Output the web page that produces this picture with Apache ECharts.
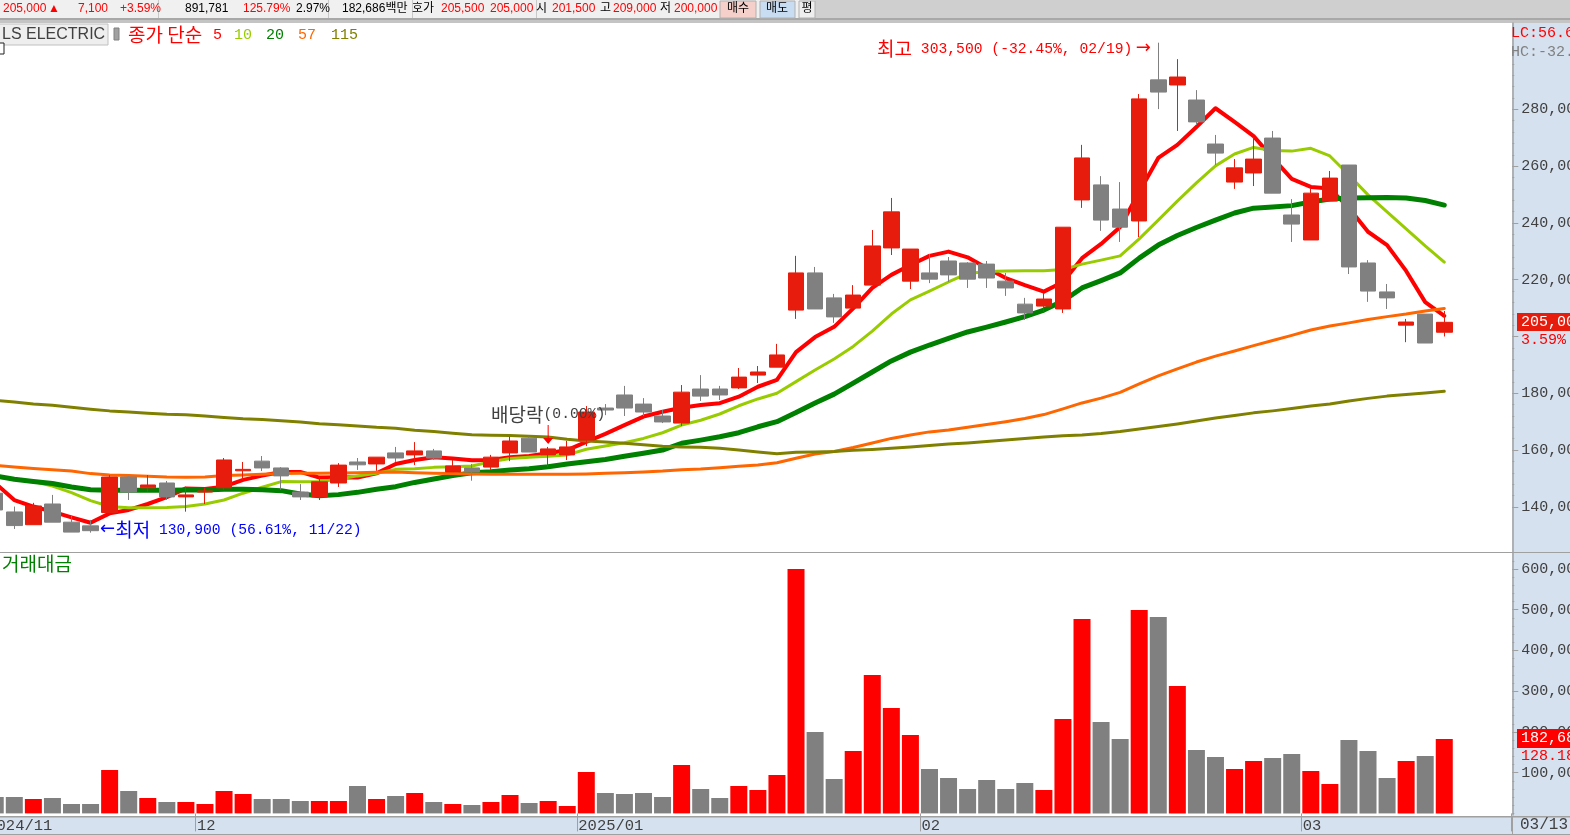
<!DOCTYPE html>
<html><head><meta charset="utf-8">
<style>html,body{margin:0;padding:0;background:#fff;overflow:hidden}#c{width:1570px;height:835px}</style>
<script src="https://cdn.jsdelivr.net/npm/echarts@6/dist/echarts.min.js"></script>
</head><body><div id="c"></div>
<script>
// Trading dates
const dates = ['2024-11-15','2024-11-18','2024-11-19','2024-11-20','2024-11-21','2024-11-22','2024-11-25','2024-11-26','2024-11-27','2024-11-28','2024-11-29',
'2024-12-02','2024-12-03','2024-12-04','2024-12-05','2024-12-06','2024-12-09','2024-12-10','2024-12-11','2024-12-12','2024-12-13','2024-12-16','2024-12-17','2024-12-18','2024-12-19','2024-12-20','2024-12-23','2024-12-24','2024-12-26','2024-12-27','2024-12-30',
'2025-01-02','2025-01-03','2025-01-06','2025-01-07','2025-01-08','2025-01-09','2025-01-10','2025-01-13','2025-01-14','2025-01-15','2025-01-16','2025-01-17','2025-01-20','2025-01-21','2025-01-22','2025-01-23','2025-01-24','2025-01-31',
'2025-02-03','2025-02-04','2025-02-05','2025-02-06','2025-02-07','2025-02-10','2025-02-11','2025-02-12','2025-02-13','2025-02-14','2025-02-17','2025-02-18','2025-02-19','2025-02-20','2025-02-21','2025-02-24','2025-02-25','2025-02-26','2025-02-27','2025-02-28',
'2025-03-04','2025-03-05','2025-03-06','2025-03-07','2025-03-10','2025-03-11','2025-03-12','2025-03-13'];
const blankSlots = ['2025-03-14','2025-03-17','2025-03-18'];
const monthLabels = {'2024-11-15':'2024/11','2024-12-02':'12','2025-01-02':'2025/01','2025-02-03':'02','2025-03-04':'03'};

// Prices in thousand won
const opens = [144.8,138.2,133.7,141.0,134.6,133.3,138.0,150.5,146.7,148.4,143.5,145.2,146.7,152.7,156.1,153.7,145.2,143.5,148.4,155.8,155.1,159.0,158.3,159.7,152.3,153.7,154.0,159.0,164.2,158.3,158.3,163.5,174.8,179.4,176.2,172.0,169.5,181.5,181.5,181.9,186.4,189.2,209.3,222.4,213.6,210.0,218.1,231.2,219.5,222.4,226.6,225.9,225.5,219.5,211.4,210.7,209.7,248.1,253.4,244.9,240.7,290.4,288.6,283.3,267.8,254.4,257.6,269.9,242.8,234.0,247.7,260.4,225.9,215.7,204.0,207.9,201.5];
const closes = [138.9,133.4,140.3,134.6,131.1,131.6,150.5,145.2,147.7,143.5,144.2,145.6,156.5,153.2,153.7,150.9,143.5,148.8,154.7,154.8,157.5,157.2,159.7,157.2,154.4,152.3,157.5,163.2,159.3,160.4,161.1,173.4,174.1,174.8,173.4,169.9,180.4,179.0,179.4,185.7,187.5,193.5,222.4,209.7,206.9,214.6,231.9,243.9,230.8,220.2,221.7,220.2,220.6,217.1,208.3,213.2,238.5,262.9,241.0,238.5,283.7,286.1,291.4,275.6,264.6,259.4,262.5,250.5,239.6,250.5,255.8,224.5,216.0,213.6,205.1,197.7,205.0];
const lows = [138.9,132.2,133.7,134.6,131.1,130.9,138.0,142.4,145.3,142.4,138.3,141.0,146.0,149.5,152.6,146.0,142.4,142.4,147.0,153.0,152.7,155.8,154.7,156.5,152.3,149.2,153.0,156.1,159.3,154.0,156.5,161.4,172.3,172.0,172.0,169.5,168.5,177.3,177.6,181.5,183.6,189.2,206.2,209.7,204.8,210.0,218.1,228.7,216.7,218.8,219.2,217.1,217.1,214.3,205.8,208.3,208.3,245.3,237.2,233.3,235.0,280.1,272.4,274.5,260.4,252.0,253.0,250.5,233.3,234.0,247.7,222.0,212.2,209.7,198.0,197.7,200.0];
const highs = [144.8,140.1,141.4,144.2,136.8,135.4,151.2,150.8,151.2,149.1,147.1,146.7,157.2,155.8,157.9,154.0,148.0,150.5,155.4,157.2,157.5,161.1,162.8,160.4,156.5,155.1,158.3,164.7,164.7,161.1,163.2,175.5,176.2,182.6,178.3,174.1,182.9,186.4,182.6,188.9,189.6,197.4,228.4,224.5,215.0,218.1,237.5,248.8,230.8,229.1,228.0,226.2,226.6,222.4,213.6,215.3,238.5,267.5,256.5,254.4,285.4,303.5,297.7,286.8,271.0,262.5,270.3,272.4,248.4,252.0,258.3,260.4,226.9,218.5,206.2,207.9,209.0];

const ma5 = [148.3,142.4,140.1,138.3,136.3,134.4,137.7,138.9,141.0,143.4,146.5,146.3,147.1,149.5,151.0,152.3,152.3,150.3,150.4,150.3,151.8,155.1,
156.5,157.5,157.0,156.4,156.5,157.5,157.9,158.9,160.0,162.9,165.7,168.8,171.8,173.5,174.9,175.9,176.5,178.8,182.3,184.7,
194.5,199.8,203.4,209.9,217.1,221.7,225.2,228.4,229.9,227.9,224.1,220.6,218.1,215.8,219.2,227.6,232.6,238.6,250.9,262.9,267.5,273.8,280.4,275.6,270.6,262.9,255.5,252.7,252.1,245.3,236.9,232.2,223.1,212.1,207.3];
const ma10 = [150.6,149.7,148.9,147.3,145.0,142.2,140.1,139.7,139.7,139.8,140.1,141.0,142.4,144.8,146.9,148.9,148.8,148.9,149.7,150.9,151.8,153.2,
153.4,153.9,154.1,154.4,155.9,157.0,157.5,157.8,158.3,160.3,161.4,162.6,164.1,166.1,168.8,170.5,172.7,175.6,178.0,180.0,184.1,
188.2,192.1,196.5,201.9,207.9,212.9,216.0,219.2,222.2,222.9,223.1,223.2,223.2,223.6,225.5,226.9,228.4,234.4,241.0,247.7,254.1,260.1,264.3,266.6,265.5,265.3,266.3,263.6,256.9,249.9,243.9,237.9,231.9,226.2];
const ma20 = [150.9,149.7,148.9,148.2,147.0,146.0,145.8,145.8,145.8,145.8,145.9,145.9,146.2,146.2,146.0,145.7,144.5,143.9,144.3,145.1,146.2,147.1,
148.6,149.8,151.0,152.0,152.4,153.0,153.4,154.1,155.1,155.9,156.7,157.8,158.9,160.0,162.4,163.5,164.7,166.1,168.2,170.0,173.2,
176.6,179.7,183.6,187.5,191.4,194.5,197.0,199.3,201.6,203.3,205.1,207.0,209.3,212.5,217.1,219.7,222.4,227.6,232.2,235.6,238.4,241.0,243.5,245.2,245.6,246.1,247.4,248.4,248.8,248.9,249.0,248.8,247.9,246.3];
const ma57 = [154.6,154.0,153.5,153.1,152.6,151.7,151.2,151.0,150.8,150.5,150.4,150.5,151.0,151.2,151.5,151.7,151.8,151.8,151.9,152.0,152.2,152.3,
152.0,151.8,151.7,151.6,151.5,151.5,151.5,151.5,151.5,151.6,151.8,152.0,152.3,152.6,153.1,153.3,153.8,154.3,154.7,155.5,157.1,
158.6,159.5,160.9,162.5,164.1,165.3,166.4,167.1,168.0,169.0,170.0,171.1,172.5,174.5,176.6,178.3,180.3,183.3,186.1,188.6,191.0,193.1,194.9,196.8,198.6,200.4,202.3,203.7,204.8,206.0,207.0,207.9,209.0,209.9];
const ma115 = [177.5,176.9,176.2,175.8,175.1,174.4,173.8,173.4,173.0,172.6,172.4,172.0,171.5,171.0,170.8,170.3,169.9,169.3,168.9,168.5,168.0,167.7,
167.0,166.5,165.9,165.4,165.2,165.1,164.9,164.6,163.8,163.2,162.8,162.4,161.9,161.3,161.1,161.0,160.6,160.0,159.3,158.7,159.2,
159.3,159.5,159.9,160.2,160.6,161.1,161.6,162.1,162.5,163.0,163.5,164.1,164.6,165.0,165.3,165.8,166.5,167.4,168.3,169.2,170.2,171.3,172.2,173.1,173.8,174.6,175.5,176.2,177.3,178.2,179.0,179.6,180.1,180.7];

// Trading value, thousand of the axis unit
const turnover = [40.3,40.3,35.3,37.8,23.1,23.1,106.5,55.0,37.8,28.0,28.0,23.1,55.0,47.6,35.3,35.3,30.4,30.4,30.4,67.3,35.3,42.7,50.1,28.0,23.1,20.6,28.0,45.2,25.5,30.4,18.2,101.6,50.1,47.6,50.1,40.3,118.8,59.9,37.8,67.3,57.4,94.3,599.9,199.8,84.4,153.2,339.7,258.7,192.4,109.0,86.9,59.9,82.0,59.9,74.6,57.4,231.7,477.2,224.4,182.6,499.3,482.1,312.7,155.6,138.4,109.0,128.6,136.0,145.8,104.1,72.2,180.2,153.2,86.9,128.6,140.9,182.686];

const priceTicks = [140,160,180,200,220,240,260,280];
const priceLabelTicks = [140,160,180,220,240,260,280];
const priceMinorTicks = [140,144,148,152,156,160,164,168,172,176,180,184,188,192,196,200,204,208,212,216,220,224,228,232,236,240,244,248,252,256,260,264,268,272,276,280,284,288,292,296,300];
const turnoverTicks = [100,200,300,400,500,600];
const turnoverMinorTicks = [0,20,40,60,80,100,120,140,160,180,200,220,240,260,280,300,320,340,360,380,400,420,440,460,480,500,520,540,560,580,600,620];

const RED='#E81C0C', GRAY='#808080', AXIS='#A0A0A0', PANEL='#D6E1EF', INK='#404040';
const FONT="'Liberation Sans','Noto Sans CJK KR',sans-serif";
const MONO="'Liberation Mono','DejaVu Sans Mono',monospace";
const CJK="'Noto Sans CJK KR',sans-serif";
const cats = dates.concat(blankSlots);
const fmtK = v => (v*1000).toLocaleString('en-US');

const txt=(x,y,s,fill,size=17,align='left',z=20,family=FONT)=>({type:'text',x,y,z,silent:true,style:{text:s,fill,font:size+'px '+family,textAlign:align,textVerticalAlign:'middle'}});
const mono=(x,y,s,fill,size=15,z=20)=>txt(x,y,s,fill,size,'left',z,MONO);
const box=(x,y,w,h,fill,z=-10,stroke)=>({type:'rect',x,y,z,silent:true,shape:{width:w,height:h},style:{fill,stroke:stroke||null,lineWidth:stroke?1:0}});

const graphicEls=[
 // toolbar
 box(0,0,1570,18,'#CFCFCF'), box(0,0,815,18,'#F0F0F0'),
 box(0,18,1570,2,'#A8A8A8'), box(0,20,1570,3,'#C4C4C4'),
 box(158,0,1,18,'#C8C8C8'), box(328,0,1,18,'#C8C8C8'), box(412,0,1,18,'#C8C8C8'), box(536,0,1,18,'#C8C8C8'),
 box(720,1,36,17,'#F5CFC9',-9,'#B0B0B0'), box(760,1,35,17,'#C9DDF2',-9,'#B0B0B0'), box(799,1,16,17,'#EEEEEE',-9,'#B0B0B0'),
 txt(3,9,'205,000','#FF0000',12), txt(48,9,'▲','#FF0000',12), txt(78,9,'7,100','#FF0000',12), txt(120,9,'+3.59%','#FF0000',12),
 txt(185,9,'891,781','#000',12), txt(243,9,'125.79%','#FF0000',12), txt(296,9,'2.97%','#000',12), txt(342,9,'182,686백만','#000',12),
 txt(412,9,'호가','#000',12), txt(441,9,'205,500','#FF0000',12), txt(490,9,'205,000','#FF0000',12),
 txt(536,9,'시','#000',12), txt(552,9,'201,500','#FF0000',12), txt(600,9,'고','#000',12), txt(613,9,'209,000','#FF0000',12),
 txt(660,9,'저','#000',12), txt(674,9,'200,000','#FF0000',12),
 txt(738,9,'매수','#000',12,'center'), txt(777,9,'매도','#000',12,'center'), txt(807,9,'평','#000',12,'center'),
 // legend row
 box(-1,24,109,21,'#EEEEEE',5,'#C0C0C0'), txt(2,35,'LS ELECTRIC',INK,16),
 box(114,28,5,12,'#A0A0A0',5,'#808080'), box(-4,43,8,11,'#FFFFFF',5,'#202020'),
 txt(128,35,'종가 단순','#FF0000',19,'left',20,CJK), mono(213,35,'5','#FF0000'), mono(234,35,'10','#99CC00'), mono(266,35,'20','#008000'), mono(298,35,'57','#FF6600'), mono(331,35,'115','#808000'),
 // panes
 box(1512,23,58,794,PANEL), box(0,816,1570,18,PANEL),
 box(0,552,1570,1,AXIS,15), box(0,816,1570,1.5,AXIS,15), box(0,834,1570,1,AXIS,15),
 box(1512,816,1,18,AXIS,15),
 txt(2,564,'거래대금','#008000',19,'left',20,CJK),
 mono(1520,825,'03/13',INK,16),
 // right-side flags
 mono(1511,33,'LC:56.61%','#FF0000'), mono(1511,52,'HC:-32.45%','#808080'),
 box(1517,313,53,18,RED,25), mono(1521,322,'205,000','#FFFFFF',15,26), mono(1521,340,'3.59%','#FF0000',15,26),
 box(1517,729,53,19,'#FF0000',25), mono(1521,738,'182,686','#FFFFFF',15,26), mono(1521,756,'128.18%','#FF0000',15,26)
];

const lineSeries=(name,data,color,width)=>({name,type:'line',data,xAxisIndex:0,yAxisIndex:0,symbol:'none',smooth:false,z:2,silent:true,animation:false,lineStyle:{color,width,cap:'round',join:'round'}});
const rich=color=>({h:{fontFamily:CJK,fontSize:19,color},d:{fontFamily:MONO,fontSize:14.7,color},a:{fontFamily:"'DejaVu Sans'",fontSize:18,color}});

const option={
 animation:false, backgroundColor:'#fff', textStyle:{fontFamily:FONT},
 graphic:{elements:graphicEls},
 grid:[
  {left:-14.3,width:1525.3,top:23,height:529,outerBoundsMode:'none'},
  {left:-14.3,width:1525.3,top:553,height:262,outerBoundsMode:'none'}
 ],
 xAxis:[
  {type:'category',gridIndex:0,data:cats,boundaryGap:true,axisLine:{show:false},axisTick:{show:false},axisLabel:{show:false},splitLine:{show:false}},
  {type:'category',gridIndex:1,data:cats,boundaryGap:true,position:'bottom',axisLine:{show:false},
   axisTick:{show:true,alignWithLabel:false,length:18,interval:(i,v)=>v in monthLabels,lineStyle:{color:AXIS,width:1}},
   axisLabel:{show:true,interval:(i,v)=>v in monthLabels,formatter:v=>monthLabels[v]||'',color:INK,fontSize:15.5,fontFamily:MONO,align:'left',margin:2,padding:[0,0,0,-8],lineHeight:18},
   splitLine:{show:false}}
 ],
 yAxis:[
  {type:'value',gridIndex:0,position:'right',offset:1.3,min:124.09,max:310.43,scale:true,splitLine:{show:false},
   axisLine:{show:true,lineStyle:{color:AXIS,width:1.5}},
   axisTick:{show:true,length:6,lineStyle:{color:AXIS},customValues:priceTicks},
   axisLabel:{show:true,color:INK,fontSize:15,fontFamily:MONO,margin:9,align:'left',customValues:priceLabelTicks,formatter:fmtK}},
  {type:'value',gridIndex:0,position:'right',offset:1.3,min:124.09,max:310.43,scale:true,splitLine:{show:false},
   axisLine:{show:false},
   axisTick:{show:true,length:2,lineStyle:{color:AXIS},customValues:priceMinorTicks},
   axisLabel:{show:false}},
  {type:'value',gridIndex:1,position:'right',offset:1.3,min:-3.93,max:639.2,scale:true,splitLine:{show:false},
   axisLine:{show:true,lineStyle:{color:AXIS,width:1.5}},
   axisTick:{show:true,length:6,lineStyle:{color:AXIS},customValues:turnoverTicks},
   axisLabel:{show:true,color:INK,fontSize:15,fontFamily:MONO,margin:9,align:'left',customValues:turnoverTicks,formatter:fmtK}},
  {type:'value',gridIndex:1,position:'right',offset:1.3,min:-3.93,max:639.2,scale:true,splitLine:{show:false},
   axisLine:{show:false},
   axisTick:{show:true,length:2,lineStyle:{color:AXIS},customValues:turnoverMinorTicks},
   axisLabel:{show:false}}
 ],
 series:[
  lineSeries('5',ma5,'#FF0000',4),
  lineSeries('10',ma10,'#99CC00',3),
  lineSeries('20',ma20,'#008000',5),
  lineSeries('57',ma57,'#FF6600',3),
  lineSeries('115',ma115,'#808000',3),
  {name:'종가',type:'candlestick',xAxisIndex:0,yAxisIndex:0,z:5,silent:true,barWidth:16,
   data:dates.map((d,i)=>[opens[i],closes[i],lows[i],highs[i]]),
   itemStyle:{color:RED,color0:GRAY,borderColor:RED,borderColor0:GRAY,borderWidth:1},
   markPoint:{z:8,silent:true,animation:false,data:[
    {coord:['2025-02-19',303.5],symbol:'circle',symbolSize:1,itemStyle:{color:'transparent'},
     label:{show:true,position:'left',distance:7,offset:[0,6],formatter:'{h|최고}{d| 303,500 (-32.45%, 02/19)} {a|→}',rich:rich('#FF0000')}},
    {coord:['2024-11-22',130.9],symbol:'circle',symbolSize:1,itemStyle:{color:'transparent'},
     label:{show:true,position:'right',distance:9,offset:[0,-3],formatter:'{a|←}{h|최저}{d| 130,900 (56.61%, 11/22)}',rich:rich('#0000FF')}},
    {coord:['2024-12-27',165.5],symbol:'path://M4.5 0L5.5 0L5.5 13L10 13L5 19L0 13L4.5 13Z',symbolSize:[10,19],itemStyle:{color:'#FF0000'},
     label:{show:true,position:'top',distance:1,formatter:'{h|배당락}{d|(0.00%)}',rich:rich(INK)}}
   ]}},
  {name:'거래대금',type:'bar',xAxisIndex:1,yAxisIndex:2,barWidth:17,startValue:-3.93,silent:true,
   data:dates.map((d,i)=>({value:turnover[i],itemStyle:{color:closes[i]>=opens[i]?'#FF0000':GRAY}}))}
 ]
};
const chart=echarts.init(document.getElementById('c'),null,{renderer:'canvas',width:1570,height:835});
chart.setOption(option);
</script></body></html>
